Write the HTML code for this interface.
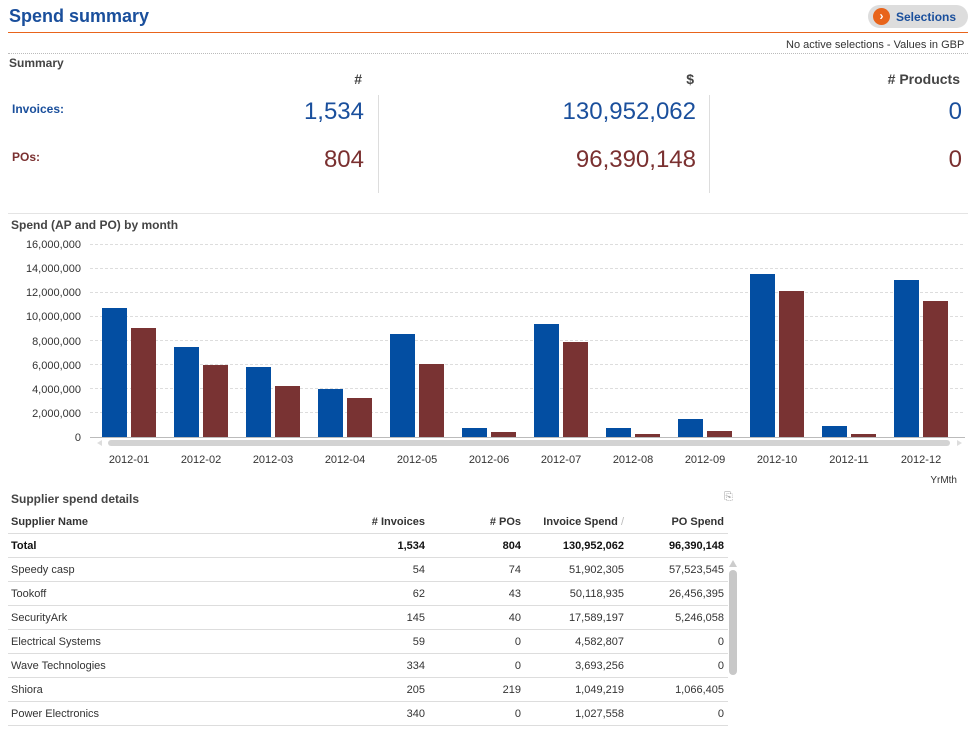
<!DOCTYPE html>
<html><head><meta charset="utf-8"><style>
*{margin:0;padding:0;box-sizing:border-box}
body{width:977px;height:732px;background:#fff;font-family:"Liberation Sans",sans-serif;position:relative;overflow:hidden;color:#333}
.a{position:absolute;white-space:nowrap}
.r{text-align:right}
.tb{position:absolute;left:8px;width:720px;font-size:11px}
.row{position:absolute;left:0;width:720px;height:24px;border-bottom:1px solid #ddd}
.row span{position:absolute;top:6px}
</style></head><body>
<div class="a" style="left:9px;top:6px;font-size:18px;font-weight:bold;color:#1a4f9c">Spend summary</div>
<div class="a" style="left:868px;top:5px;width:100px;height:23px;border-radius:12px;background:#ddd"></div>
<div class="a" style="left:873px;top:8px;width:17px;height:17px;border-radius:50%;background:#e8641b;color:#fff;font-size:12px;font-weight:bold;text-align:center;line-height:17px">›</div>
<div class="a" style="left:896px;top:10px;font-size:12px;font-weight:bold;color:#1a4f9c">Selections</div>
<div class="a" style="left:8px;top:32px;width:960px;height:1px;background:#e8641b"></div>
<div class="a" style="left:786px;top:39px;font-size:11px;color:#333">No active selections - Values in GBP</div>
<div class="a" style="left:8px;top:53px;width:960px;border-top:1px dotted #bbb"></div>
<div class="a" style="left:9px;top:56px;font-size:12px;font-weight:bold;color:#444">Summary</div>
<div class="a r" style="left:300px;width:62px;top:71px;font-size:14px;font-weight:bold;color:#444">#</div>
<div class="a r" style="left:600px;width:94px;top:71px;font-size:14px;font-weight:bold;color:#444">$</div>
<div class="a r" style="left:800px;width:160px;top:71px;font-size:14px;font-weight:bold;color:#444"># Products</div>
<div class="a" style="left:12px;top:102px;font-size:12px;font-weight:bold;color:#1a4f9c">Invoices:</div>
<div class="a" style="left:12px;top:150px;font-size:12px;font-weight:bold;color:#7a3030">POs:</div>
<div class="a r" style="left:200px;width:164px;top:98px;font-size:24px;color:#1a4f9c">1,534</div>
<div class="a r" style="left:450px;width:246px;top:98px;font-size:24px;color:#1a4f9c">130,952,062</div>
<div class="a r" style="left:850px;width:112px;top:98px;font-size:24px;color:#1a4f9c">0</div>
<div class="a r" style="left:200px;width:164px;top:146px;font-size:24px;color:#7a3030">804</div>
<div class="a r" style="left:450px;width:246px;top:146px;font-size:24px;color:#7a3030">96,390,148</div>
<div class="a r" style="left:850px;width:112px;top:146px;font-size:24px;color:#7a3030">0</div>
<div class="a" style="left:378px;top:95px;width:1px;height:98px;background:#ddd"></div>
<div class="a" style="left:709px;top:95px;width:1px;height:98px;background:#ddd"></div>
<div class="a" style="left:8px;top:213px;width:960px;height:1px;background:#e4e4e4"></div>
<div class="a" style="left:11px;top:218px;font-size:12px;font-weight:bold;color:#444">Spend (AP and PO) by month</div>
<svg class="a" style="left:0;top:0" width="977" height="490" font-family="Liberation Sans" font-size="11" fill="#333">
<g stroke="#ddd" stroke-dasharray="3,2">
<line x1="90" x2="965" y1="244.5" y2="244.5"/><line x1="90" x2="965" y1="268.5" y2="268.5"/><line x1="90" x2="965" y1="292.5" y2="292.5"/><line x1="90" x2="965" y1="316.5" y2="316.5"/><line x1="90" x2="965" y1="340.5" y2="340.5"/><line x1="90" x2="965" y1="364.5" y2="364.5"/><line x1="90" x2="965" y1="388.5" y2="388.5"/><line x1="90" x2="965" y1="412.5" y2="412.5"/>
</g>
<g text-anchor="end"><text x="81" y="248">16,000,000</text><text x="81" y="272">14,000,000</text><text x="81" y="296">12,000,000</text><text x="81" y="320">10,000,000</text><text x="81" y="345">8,000,000</text><text x="81" y="369">6,000,000</text><text x="81" y="393">4,000,000</text><text x="81" y="417">2,000,000</text><text x="81" y="441">0</text></g>
<g fill="#034ea2">
<rect x="102" y="308" width="25" height="129"/><rect x="174" y="347" width="25" height="90"/><rect x="246" y="367" width="25" height="70"/><rect x="318" y="389" width="25" height="48"/><rect x="390" y="334" width="25" height="103"/><rect x="462" y="428" width="25" height="9"/><rect x="534" y="324" width="25" height="113"/><rect x="606" y="428" width="25" height="9"/><rect x="678" y="419" width="25" height="18"/><rect x="750" y="274" width="25" height="163"/><rect x="822" y="426" width="25" height="11"/><rect x="894" y="280" width="25" height="157"/>
</g>
<g fill="#793333">
<rect x="131" y="328" width="25" height="109"/><rect x="203" y="365" width="25" height="72"/><rect x="275" y="386" width="25" height="51"/><rect x="347" y="398" width="25" height="39"/><rect x="419" y="364" width="25" height="73"/><rect x="491" y="432" width="25" height="5"/><rect x="563" y="342" width="25" height="95"/><rect x="635" y="434" width="25" height="3"/><rect x="707" y="431" width="25" height="6"/><rect x="779" y="291" width="25" height="146"/><rect x="851" y="434" width="25" height="3"/><rect x="923" y="301" width="25" height="136"/>
</g>
<line x1="90" x2="965" y1="437.5" y2="437.5" stroke="#bbb"/>
<rect x="108" y="440" width="842" height="6" rx="3" fill="#d3d3d3"/>
<path d="M97 443 l5 -3 v6z M962 443 l-5 -3 v6z" fill="#ddd"/>
<g text-anchor="middle"><text x="129" y="463">2012-01</text><text x="201" y="463">2012-02</text><text x="273" y="463">2012-03</text><text x="345" y="463">2012-04</text><text x="417" y="463">2012-05</text><text x="489" y="463">2012-06</text><text x="561" y="463">2012-07</text><text x="633" y="463">2012-08</text><text x="705" y="463">2012-09</text><text x="777" y="463">2012-10</text><text x="849" y="463">2012-11</text><text x="921" y="463">2012-12</text></g>
<text x="957" y="483" text-anchor="end" font-size="10">YrMth</text>
</svg>
<div class="a" style="left:11px;top:492px;font-size:12px;font-weight:bold;color:#444">Supplier spend details</div>
<div class="a" style="left:724px;top:491px;font-size:11px;color:#999">⎘</div>
<div class="tb" style="top:510px">
<div class="row" style="top:0;font-weight:bold"><span style="left:3px">Supplier Name</span><span style="right:303px">#&nbsp;Invoices</span><span style="right:207px">#&nbsp;POs</span><span style="right:104px">Invoice Spend <span style="position:static;color:#bbb;font-weight:normal">/</span></span><span style="right:4px">PO Spend</span></div>
<div class="row" style="top:24px;font-weight:bold;color:#111"><span style="left:3px">Total</span><span style="right:303px">1,534</span><span style="right:207px">804</span><span style="right:104px">130,952,062</span><span style="right:4px">96,390,148</span></div>
<div class="row" style="top:48px"><span style="left:3px">Speedy casp</span><span style="right:303px">54</span><span style="right:207px">74</span><span style="right:104px">51,902,305</span><span style="right:4px">57,523,545</span></div>
<div class="row" style="top:72px"><span style="left:3px">Tookoff</span><span style="right:303px">62</span><span style="right:207px">43</span><span style="right:104px">50,118,935</span><span style="right:4px">26,456,395</span></div>
<div class="row" style="top:96px"><span style="left:3px">SecurityArk</span><span style="right:303px">145</span><span style="right:207px">40</span><span style="right:104px">17,589,197</span><span style="right:4px">5,246,058</span></div>
<div class="row" style="top:120px"><span style="left:3px">Electrical Systems</span><span style="right:303px">59</span><span style="right:207px">0</span><span style="right:104px">4,582,807</span><span style="right:4px">0</span></div>
<div class="row" style="top:144px"><span style="left:3px">Wave Technologies</span><span style="right:303px">334</span><span style="right:207px">0</span><span style="right:104px">3,693,256</span><span style="right:4px">0</span></div>
<div class="row" style="top:168px"><span style="left:3px">Shiora</span><span style="right:303px">205</span><span style="right:207px">219</span><span style="right:104px">1,049,219</span><span style="right:4px">1,066,405</span></div>
<div class="row" style="top:192px"><span style="left:3px">Power Electronics</span><span style="right:303px">340</span><span style="right:207px">0</span><span style="right:104px">1,027,558</span><span style="right:4px">0</span></div>
</div>
<div class="a" style="left:729px;top:570px;width:8px;height:105px;border-radius:4px;background:#c8c8c8"></div>
<div class="a" style="left:729px;top:560px;width:0;height:0;border-left:4px solid transparent;border-right:4px solid transparent;border-bottom:7px solid #ccc"></div>
</body></html>
